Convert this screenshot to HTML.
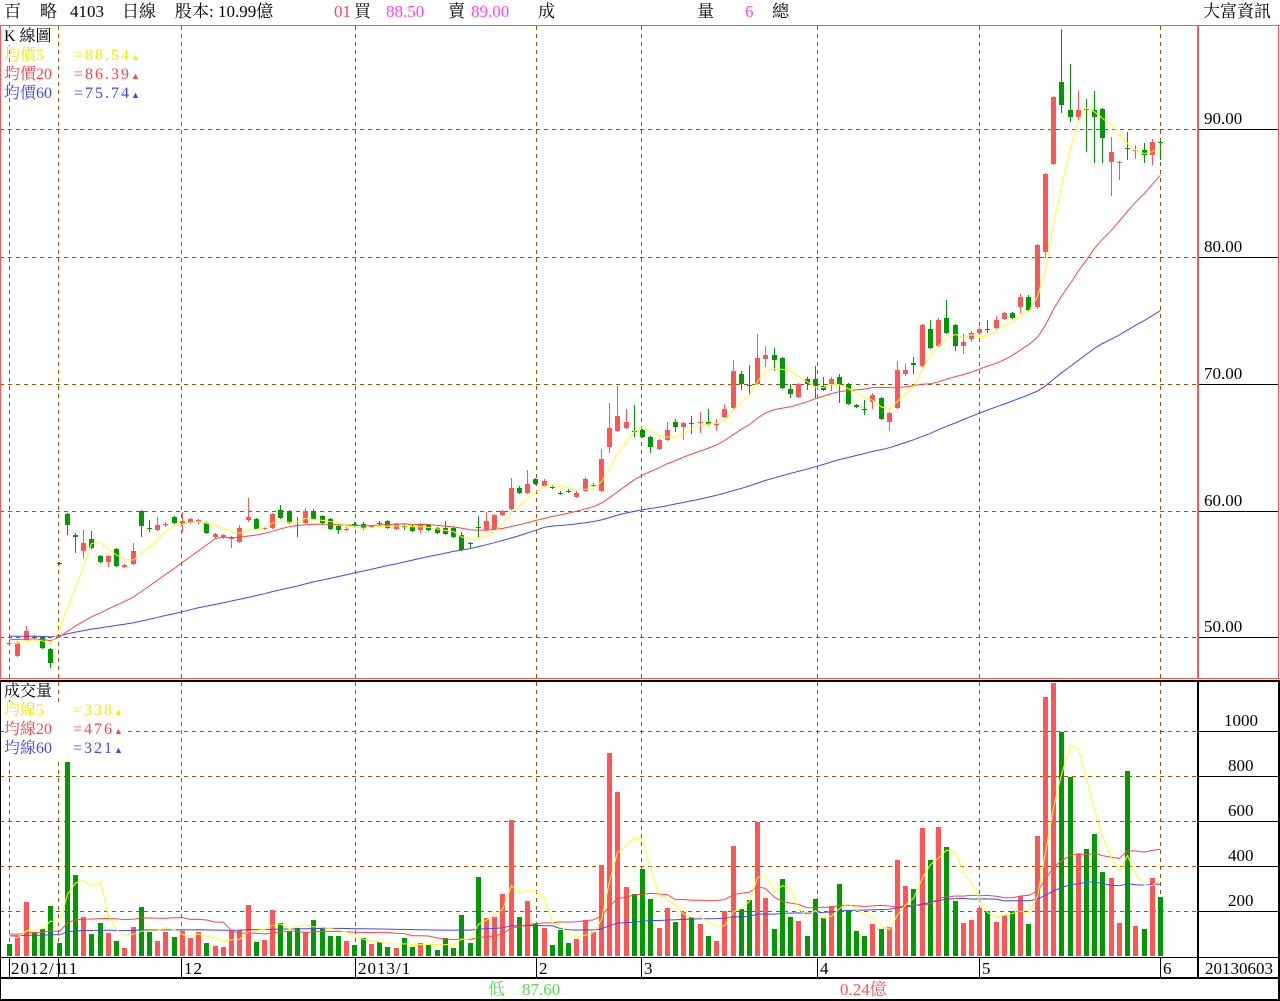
<!DOCTYPE html>
<html><head><meta charset="utf-8">
<style>
html,body{margin:0;padding:0;background:#fff;}
body{width:1280px;height:1001px;position:relative;overflow:hidden;font-family:"Liberation Serif","Noto Serif CJK TC","Noto Sans CJK TC",serif;}
.t{position:absolute;font-size:17px;line-height:18px;white-space:pre;}
.l{position:absolute;font-size:16px;line-height:17px;white-space:pre;}
.v{letter-spacing:2px;}
.d{letter-spacing:1px;}
.tri{font-size:9px;letter-spacing:0;}
svg{position:absolute;left:0;top:0;}
</style></head><body>
<svg id="s" width="1280" height="1001" shape-rendering="crispEdges"></svg>

<div class="t" style="left:4px;top:3px;color:#000">百</div>
<div class="t" style="left:40px;top:3px;color:#000">略</div>
<div class="t" style="left:70px;top:3px;color:#000">4103</div>
<div class="t" style="left:122px;top:3px;color:#000">日線</div>
<div class="t" style="left:175px;top:3px;color:#000">股本: 10.99億</div>
<div class="t" style="left:334px;top:3px;color:#f44">01</div>
<div class="t" style="left:354px;top:3px;color:#000">買</div>
<div class="t" style="left:386px;top:3px;color:#f4f">88.50</div>
<div class="t" style="left:448px;top:3px;color:#000">賣</div>
<div class="t" style="left:471px;top:3px;color:#f4f">89.00</div>
<div class="t" style="left:538px;top:3px;color:#000">成</div>
<div class="t" style="left:697px;top:3px;color:#000">量</div>
<div class="t" style="left:745px;top:3px;color:#f4f">6</div>
<div class="t" style="left:772px;top:3px;color:#000">總</div>
<div class="t" style="left:1203px;top:3px;color:#000">大富資訊</div>

<div class="l" style="left:4px;top:28px;color:#000;background:#fff">K 線圖</div>
<div class="l" style="left:4px;top:47px;color:#ee0">均價5</div><div class="l v" style="left:74px;top:47px;color:#ee0">=88.54<span class="tri">▲</span></div>
<div class="l" style="left:4px;top:66px;color:#f44">均價20</div><div class="l v" style="left:74px;top:66px;color:#f44">=86.39<span class="tri">▲</span></div>
<div class="l" style="left:4px;top:85px;color:#44f">均價60</div><div class="l v" style="left:74px;top:85px;color:#44f">=75.74<span class="tri">▲</span></div>

<div class="l" style="left:4px;top:683px;color:#000;background:#fff">成交量</div>
<div class="l" style="left:4px;top:702px;width:120px;height:56px;background:#fff"></div>
<div class="l" style="left:4px;top:702px;color:#ee0">均線5</div><div class="l v" style="left:73px;top:702px;color:#ee0">=338<span class="tri">▲</span></div>
<div class="l" style="left:4px;top:721px;color:#f44">均線20</div><div class="l v" style="left:73px;top:721px;color:#f44">=476<span class="tri">▲</span></div>
<div class="l" style="left:4px;top:740px;color:#44f">均線60</div><div class="l v" style="left:73px;top:740px;color:#44f">=321<span class="tri">▲</span></div>

<div class="t" style="left:1204px;top:110px">90.00</div>
<div class="t" style="left:1204px;top:238px">80.00</div>
<div class="t" style="left:1204px;top:365px">70.00</div>
<div class="t" style="left:1204px;top:492px">60.00</div>
<div class="t" style="left:1204px;top:618px">50.00</div>

<div class="t" style="left:1224px;top:712px">1000</div>
<div class="t" style="left:1228px;top:757px">800</div>
<div class="t" style="left:1228px;top:802px">600</div>
<div class="t" style="left:1228px;top:847px">400</div>
<div class="t" style="left:1228px;top:892px">200</div>

<div class="t d" style="left:11px;top:960px">2012/1</div>
<div class="t d" style="left:60px;top:960px">11</div>
<div class="t d" style="left:184px;top:960px">12</div>
<div class="t d" style="left:358px;top:960px">2013/1</div>
<div class="t" style="left:539px;top:960px">2</div>
<div class="t" style="left:644px;top:960px">3</div>
<div class="t" style="left:820px;top:960px">4</div>
<div class="t" style="left:982px;top:960px">5</div>
<div class="t" style="left:1163px;top:960px">6</div>
<div class="t" style="left:1205px;top:960px">20130603</div>

<div class="t" style="left:488px;top:981px;color:#5d5">低　87.60</div>
<div class="t" style="left:840px;top:981px;color:#f55">0.24億</div>

<script>
var D=[[643,644,640,646,'g'],[643,656,641,657,'r'],[631,640,626,641,'r'],[637,638,635,639,'g'],[637,648,636,649,'g'],[649,663,648,668,'g'],[563,564,562,565,'g'],[514,525,513,535,'g'],[535,537,533,553,'g'],[543,551,530,558,'r'],
[539,548,531,549,'g'],[556,562,555,563,'g'],[556,562,555,567,'r'],[549,566,548,567,'g'],[565,567,564,568,'r'],[551,564,543,565,'r'],[511,526,510,537,'g'],[528,529,520,532,'g'],[525,530,517,531,'r'],[524,525,522,527,'r'],
[517,523,516,524,'g'],[521,523,512,532,'r'],[519,523,518,524,'r'],[520,522,519,524,'r'],[523,533,522,534,'g'],[534,537,533,538,'r'],[535,537,534,539,'r'],[537,539,536,548,'r'],[528,542,525,543,'r'],[517,520,498,522,'r'],
[519,529,518,530,'g'],[528,529,527,530,'r'],[514,528,513,529,'r'],[510,518,505,519,'g'],[511,523,510,524,'g'],[525,526,517,537,'g'],[511,523,508,524,'r'],[511,519,509,520,'g'],[516,523,515,525,'g'],[519,529,518,530,'g'],
[526,530,525,534,'g'],[529,530,527,531,'r'],[524,525,522,527,'g'],[524,528,522,530,'g'],[526,527,525,528,'r'],[523,524,521,525,'g'],[521,528,520,529,'g'],[524,529,523,530,'r'],[526,527,524,530,'g'],[526,531,525,532,'g'],
[524,530,523,533,'r'],[525,530,524,531,'g'],[528,533,527,534,'g'],[528,534,521,535,'g'],[528,537,527,538,'g'],[535,550,532,551,'g'],[543,544,542,548,'g'],[527,528,516,537,'g'],[521,530,512,531,'r'],[515,529,514,530,'r'],
[511,515,510,516,'r'],[488,509,478,510,'r'],[488,493,486,494,'g'],[484,493,470,494,'r'],[479,484,478,485,'g'],[481,486,479,487,'r'],[487,488,485,489,'g'],[493,494,491,495,'g'],[491,492,489,493,'g'],[493,497,491,498,'r'],
[479,491,477,492,'r'],[485,486,483,487,'r'],[459,491,449,492,'r'],[428,447,403,453,'r'],[416,431,386,432,'r'],[422,428,409,429,'r'],[431,432,405,437,'g'],[430,437,429,438,'g'],[437,447,436,453,'g'],[440,449,439,450,'r'],
[430,440,422,441,'r'],[422,427,419,432,'g'],[423,427,422,440,'r'],[423,424,416,434,'g'],[422,423,412,433,'r'],[422,424,409,425,'g'],[424,425,419,431,'r'],[409,417,404,418,'r'],[371,408,360,409,'r'],[374,384,371,390,'g'],
[385,386,365,395,'g'],[358,384,334,385,'r'],[355,359,346,367,'r'],[355,360,348,371,'g'],[358,388,357,389,'g'],[389,394,384,398,'g'],[384,397,383,398,'r'],[379,384,377,390,'g'],[379,386,366,398,'g'],[386,390,377,391,'g'],
[379,384,377,391,'r'],[377,385,374,403,'g'],[384,404,383,405,'g'],[405,407,404,408,'g'],[409,410,400,415,'g'],[395,402,393,409,'r'],[398,419,397,420,'g'],[413,422,412,431,'r'],[370,408,361,409,'r'],[370,374,364,376,'r'],
[363,365,357,374,'g'],[325,366,324,367,'r'],[329,348,320,349,'g'],[320,346,318,347,'r'],[318,333,300,334,'g'],[325,346,324,351,'g'],[342,346,334,354,'r'],[333,339,331,342,'r'],[329,333,327,335,'r'],[329,330,320,333,'g'],
[320,328,316,329,'r'],[313,319,312,320,'r'],[313,318,312,319,'g'],[297,307,294,313,'r'],[297,310,295,312,'g'],[245,307,244,309,'r'],[174,252,173,258,'r'],[97,164,96,165,'r'],[82,105,29,113,'g'],[110,117,64,122,'g'],
[110,117,91,120,'r'],[109,110,99,152,'g'],[110,117,91,163,'g'],[109,138,108,163,'g'],[152,162,137,196,'r'],[162,163,161,180,'r'],[148,149,132,160,'g'],[150,151,145,159,'r'],[150,155,143,163,'g'],[142,155,139,165,'r'],
[142,143,141,160,'g']];
var V=[53,89,241,104,120,222,58,862,360,173,98,147,104,67,36,129,218,108,67,107,84,111,81,107,58,44,40,113,116,227,62,73,204,147,111,124,108,160,129,89,89,67,49,80,53,61,40,36,80,40,58,49,27,80,36,182,58,351,169,173,275,604,173,246,142,124,49,117,58,77,160,107,404,903,729,307,275,387,253,124,213,151,196,173,142,89,67,200,489,209,249,595,258,120,342,173,156,89,253,169,222,320,200,111,89,142,120,129,427,311,298,569,427,573,484,244,147,160,213,200,151,182,200,267,142,533,1151,1213,995,795,453,475,542,373,347,147,822,133,120,347,262];
var R='#ff5555',G='#009900',BR='#a05000';
var h=[];
function X(i){return Math.round(9.2+i*8.22);}
function ln(x1,y1,x2,y2,c,w,d){h.push('<line x1="'+x1+'" y1="'+y1+'" x2="'+x2+'" y2="'+y2+'" stroke="'+c+'" stroke-width="'+(w||1)+'"'+(d?' stroke-dasharray="'+d+'"':'')+'/>');}
function rc(x,y,w,hh,c){h.push('<rect x="'+x+'" y="'+y+'" width="'+w+'" height="'+hh+'" fill="'+c+'"/>');}
[129,257,384,511,637].forEach(function(y){ln(0,y+.5,1197,y+.5,BR,1,'4,4');});
[731,776,821,866,911].forEach(function(y){ln(0,y+.5,1197,y+.5,BR,1,'4,4');});
[9,58,181,355,536,641,817,979,1160].forEach(function(x){ln(x+.5,26,x+.5,678,BR,1,'4,4');ln(x+.5,682,x+.5,956,BR,1,'4,4');ln(x+.5,958,x+.5,977,'#000',1);});
[129,257,384,511,637].forEach(function(y){ln(1199,y+.5,1278,y+.5,'#000',1);});
[731,776,821,866,911].forEach(function(y){ln(1199,y+.5,1278,y+.5,'#000',1);});
D.forEach(function(d,i){var x=X(i),c=d[4]=='r'?R:G;rc(x,d[2],1,d[3]-d[2],c);var hh=d[1]-d[0];if(hh<=1){rc(x-2,d[0],5,1,c);}else rc(x-2,d[0],5,hh,c);});
V.forEach(function(v,i){var x=X(i),c=D[i][4]=='r'?R:G;var t=Math.round(956-v*0.225);rc(x-2,t,5,956-t,c);});
function ma(arr,n,pad){var out=[];for(var i=0;i<arr.length;i++){var s=0;for(var k=i-n+1;k<=i;k++)s+=k<0?pad:arr[k];out.push(s/n);}return out;}
var C=D.map(function(d){return d[4]=='r'?d[0]:d[1];});
function pl(vals,c,f){var p=vals.map(function(v,i){return X(i)+0.5+','+f(v).toFixed(1);}).join(' ');h.push('<polyline points="'+p+'" fill="none" stroke="'+c+'" stroke-width="1" shape-rendering="auto"/>');}
var id=function(v){return v;};
pl(ma(C,60,636),'#4444ff',id);
pl(ma(C,20,639),'#ff4444',id);
pl(ma(C,5,643),'#ffff22',id);
var vf=function(v){return 956-v*0.225;};
pl(ma(V,60,90),'#4444ff',vf);
pl(ma(V,20,100),'#ff4444',vf);
pl(ma(V,5,90),'#ffff22',vf);
ln(0,25.5,1280,25.5,R,1);
ln(0.5,26,0.5,679,R,1);
ln(1198,26,1198,679,R,2);
ln(1278.5,26,1278.5,679,R,1);
ln(0,678.5,1280,678.5,R,1);
ln(0,681,1280,681,'#000',2);
ln(0.5,681,0.5,1001,'#000',1);
ln(1198,681,1198,978,'#000',2);
ln(1279,681,1279,1001,'#000',2);
ln(0,957.5,1280,957.5,'#000',1);
ln(0,978,1280,978,'#000',2);
ln(0,1000,1280,1000,'#000',2);
document.getElementById('s').innerHTML=h.join('');
</script>
</body></html>
